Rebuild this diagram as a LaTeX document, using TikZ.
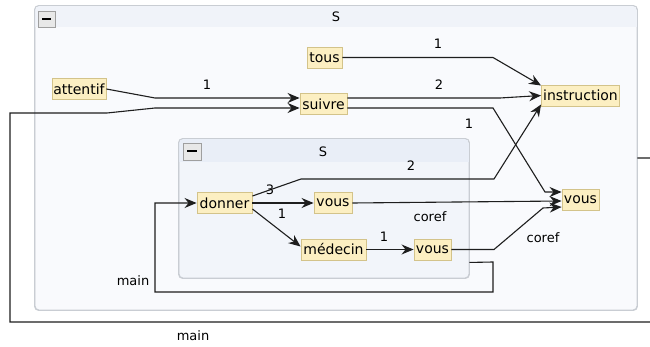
\documentclass[tikz,border=0pt]{standalone}
\usepackage{fontspec}
\setmainfont{DejaVu Sans}
\usetikzlibrary{arrows.meta,calc}
\definecolor{nodefill}{HTML}{FCEFC2}
\definecolor{nodeline}{HTML}{D3C38A}
\definecolor{outerbody}{HTML}{F9FAFD}
\definecolor{outerhead}{HTML}{F0F3F9}
\definecolor{innerbody}{HTML}{F2F5FA}
\definecolor{innerhead}{HTML}{E9EEF7}
\definecolor{frame}{HTML}{C9CDD3}
\definecolor{edgecol}{HTML}{1E1E1E}
\tikzset{
  word/.style={draw=nodeline, fill=nodefill, line width=0.9pt, inner sep=0pt,
    minimum height=21pt, font=\fontsize{14}{16}\selectfont},
  lbl/.style={inner sep=0pt, font=\fontsize{13}{15}\selectfont, text=black},
  edge/.style={draw=edgecol, line width=1.1pt,
    -{Stealth[length=12pt,width=10pt,inset=4pt]}},
  groupbox/.style={draw=frame, line width=0.9pt, rounded corners=4pt, inner sep=0pt},
  btn/.style={draw=gray!75, fill=gray!18, line width=0.9pt},
}
\begin{document}
\begin{tikzpicture}[x=1pt,y=-1pt]
\useasboundingbox (0,0) rectangle (650,347);
\fill[white] (0,0) rectangle (650,347);
% outer group
\node[groupbox, fill=outerbody, minimum width=602pt, minimum height=304pt] (So) at (336,158) {};
\begin{scope}
  \clip[rounded corners=4pt] (35,6) rectangle (637,310);
  \fill[outerhead] (35,6) rectangle (637,27);
\end{scope}
\draw[groupbox] (So.north west) rectangle (So.south east);
\draw[btn] (38,11) rectangle (55,27);
\draw[line width=2pt] (42,19) -- (51,19);
\node[lbl] (St) at (336,17) {S};
% inner group
\node[groupbox, fill=innerbody, minimum width=290pt, minimum height=139pt] (Si) at (324,208.5) {};
\begin{scope}
  \clip[rounded corners=4pt] (179,139) rectangle (469,278);
  \fill[innerhead] (179,139) rectangle (469,162);
\end{scope}
\draw[groupbox] (Si.north west) rectangle (Si.south east);
\draw[btn] (183,143) rectangle (201,160);
\draw[line width=2pt] (187,151.5) -- (197,151.5);
\node[lbl] (Sit) at (323,152) {S};
% words
\node[word, minimum width=35pt] (tous) at (324.5,57.5) {tous};
\node[word, minimum width=54pt] (attentif) at (79,89) {attentif};
\node[word, minimum width=47pt] (suivre) at (323.5,104) {suivre};
\node[word, minimum width=78pt] (instruction) at (580.5,95.5) {instruction};
\node[word, minimum width=37pt] (vousR) at (580.5,200) {vous};
\node[word, minimum width=55pt] (donner) at (224.5,203) {donner};
\node[word, minimum width=38pt] (vousA) at (333,203) {vous};
\node[word, minimum width=65pt] (med) at (333.5,249.5) {médecin};
\node[word, minimum width=37pt] (vousB) at (432.5,249.5) {vous};
% edges
\draw[edge] (tous.east) -- (493,57.5) -- ([yshift=10pt]instruction.west);
\draw[edge] (attentif.east) -- (155,98) -- ([yshift=6pt]suivre.west);
\draw[edge] (So.east) -- (680,158) -- (680,322) -- (10,322) -- (10,113) -- (107,113) -- (155,108) -- ([yshift=-4pt]suivre.west);
\draw[edge] ([yshift=6pt]suivre.east) -- (500,98) -- (instruction.west);
\draw[edge] ([yshift=-4pt]suivre.east) -- (493,108) -- (545,192) -- ([yshift=8pt]vousR.west);
\draw[edge] ([yshift=7pt]donner.east) -- (301,179) -- (494,179) -- ([yshift=-9pt]instruction.west);
\draw[edge] (donner.east) -- (vousA.west);
\draw[edge] ([yshift=-6pt]donner.east) -- ([yshift=3pt]med.west);
\draw[edge] (med.east) -- (vousB.west);
\draw[edge] (vousA.east) -- ([yshift=-1pt]vousR.west);
\draw[edge] (vousB.east) -- (494,249.5) -- (543,208) -- ([yshift=-7pt]vousR.west);
\draw[edge] ($(Si.south east)+(0,-16)$) -- (493,262) -- (493,292) -- (155,292) -- (155,203) -- (donner.west);
% labels
\node[lbl] (l1) at (438,44) {1};
\node[lbl] (l2) at (439,85) {2};
\node[lbl] (l3) at (469,124) {1};
\node[lbl] (l4) at (207,85) {1};
\node[lbl] (l5) at (411,166) {2};
\node[lbl] (l6) at (270,190) {3};
\node[lbl] (l7) at (282,214) {1};
\node[lbl] (l8) at (384,237) {1};
\node[lbl] (l9) at (430,217) {coref};
\node[lbl] (l10) at (543,238) {coref};
\node[lbl] (l11) at (133,281) {main};
\node[lbl] (l12) at (193,336) {main};
\end{tikzpicture}
\end{document}
